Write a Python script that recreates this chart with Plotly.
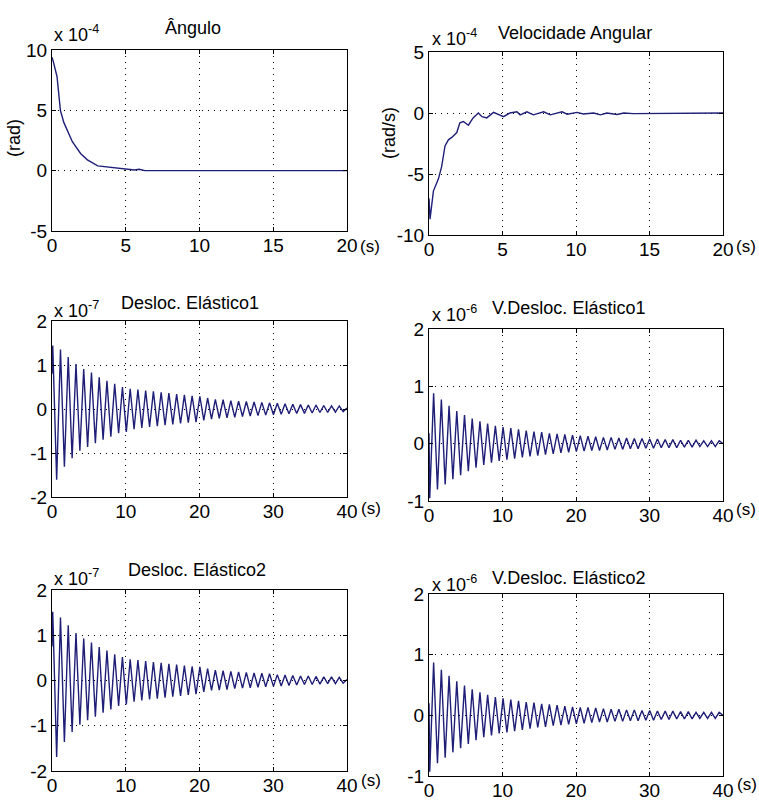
import plotly.graph_objects as go

W, H = 759, 800

# ---------------- data (values in the scaled units shown on each axis) ----------------
# Ângulo (x 10^-4 rad)
t_ang = [0, 0.1, 0.34, 0.57, 0.8, 1.03, 1.38, 1.95, 2.4, 3.1, 3.8, 4.7, 5.6, 5.9, 6.3, 20]
ang = [9.4, 9.0, 7.8, 5.0, 4.0, 3.3, 2.4, 1.4, 0.9, 0.4, 0.3, 0.14, 0.05, 0.12, 0.0, 0.0]

# Velocidade Angular (x 10^-4 rad/s)
t_vel = [0, 0.07, 0.3, 0.64, 0.86, 1.09, 1.32, 1.55, 1.89, 2.1, 2.34, 2.68, 3.0, 3.36, 3.6,
         3.93, 4.39, 4.73, 5.07, 5.5, 5.98, 6.2, 6.66, 7.1, 7.8, 8.25, 8.7, 9.05, 9.4, 10.07,
         10.5, 11.2, 11.66, 12.1, 12.8, 13.25, 13.9, 20]
vel = [-7.0, -8.7, -6.4, -5.4, -4.4, -2.7, -2.2, -2.0, -1.6, -0.8, -0.7, -1.0, -0.4, 0.0, -0.3,
       -0.4, 0.05, -0.15, -0.3, 0.0, 0.1, -0.15, 0.1, -0.15, 0.1, -0.15, 0.0, 0.1, -0.1, 0.05,
       -0.08, 0.0, -0.15, 0.0, -0.12, 0.0, -0.05, 0.0]

# sample times of the oscillation extremes (s)
t_osc = [0.0, 0.1, 0.63, 1.15, 1.68, 2.2, 2.73, 3.25, 3.78, 4.3, 4.83, 5.35, 5.88, 6.4, 6.93,
         7.45, 7.98, 8.5, 9.03, 9.55, 10.08, 10.6, 11.13, 11.65, 12.18, 12.7, 13.23, 13.75,
         14.28, 14.8, 15.33, 15.85, 16.38, 16.9, 17.43, 17.95, 18.48, 19.0, 19.53, 20.05,
         20.58, 21.1, 21.63, 22.15, 22.68, 23.2, 23.73, 24.25, 24.78, 25.3, 25.83, 26.35,
         26.88, 27.4, 27.93, 28.45, 28.98, 29.5, 30.03, 30.55, 31.08, 31.6, 32.13, 32.65,
         33.18, 33.7, 34.23, 34.75, 35.28, 35.8, 36.33, 36.85, 37.38, 37.9, 38.43, 38.95,
         39.48, 40.0]

# Desloc. Elástico1 (x 10^-7)
desl1 = [0.8, 1.44, -1.61, 1.35, -1.31, 1.18, -1.12, 1.02, -0.95, 0.91, -0.86, 0.83, -0.78,
         0.72, -0.70, 0.64, -0.63, 0.57, -0.55, 0.50, -0.52, 0.46, -0.46, 0.44, -0.43, 0.42,
         -0.41, 0.40, -0.39, 0.38, -0.37, 0.36, -0.35, 0.34, -0.33, 0.32, -0.31, 0.30, -0.30,
         0.29, -0.26, 0.25, -0.23, 0.22, -0.21, 0.21, -0.20, 0.19, -0.19, 0.18, -0.17, 0.17,
         -0.16, 0.16, -0.15, 0.15, -0.14, 0.14, -0.13, 0.13, -0.12, 0.12, -0.11, 0.11, -0.10,
         0.10, -0.10, 0.09, -0.09, 0.09, -0.08, 0.08, -0.08, 0.07, -0.07, 0.07, -0.06, 0.02]

# V.Desloc. Elástico1 (x 10^-6)
vdesl1 = [0.18, -0.95, 0.88, -0.80, 0.77, -0.71, 0.66, -0.62, 0.57, -0.55, 0.50, -0.48, 0.44,
          -0.42, 0.39, -0.37, 0.35, -0.33, 0.31, -0.30, 0.29, -0.28, 0.27, -0.26, 0.25, -0.24,
          0.23, -0.22, 0.21, -0.21, 0.20, -0.19, 0.18, -0.18, 0.17, -0.16, 0.16, -0.15, 0.15,
          -0.14, 0.14, -0.13, 0.13, -0.12, 0.12, -0.12, 0.11, -0.11, 0.11, -0.10, 0.10, -0.10,
          0.10, -0.09, 0.09, -0.09, 0.09, -0.08, 0.08, -0.08, 0.08, -0.07, 0.07, -0.07, 0.07,
          -0.07, 0.06, -0.06, 0.06, -0.06, 0.06, -0.05, 0.05, -0.05, 0.05, -0.05, 0.05, 0.0]

# Desloc. Elástico2 (x 10^-7)
desl2 = [0.75, 1.52, -1.69, 1.39, -1.36, 1.22, -1.14, 1.05, -0.98, 0.93, -0.88, 0.84, -0.80,
         0.74, -0.71, 0.66, -0.64, 0.58, -0.56, 0.52, -0.53, 0.47, -0.47, 0.45, -0.44, 0.43,
         -0.42, 0.41, -0.40, 0.39, -0.38, 0.37, -0.36, 0.35, -0.34, 0.33, -0.32, 0.31, -0.30,
         0.30, -0.25, 0.26, -0.22, 0.23, -0.21, 0.22, -0.20, 0.20, -0.18, 0.19, -0.17, 0.18,
         -0.16, 0.17, -0.15, 0.16, -0.14, 0.15, -0.13, 0.13, -0.12, 0.12, -0.11, 0.11, -0.10,
         0.10, -0.09, 0.10, -0.09, 0.09, -0.08, 0.08, -0.07, 0.08, -0.07, 0.07, -0.06, 0.02]

# V.Desloc. Elástico2 (x 10^-6)
vdesl2 = [0.20, -0.93, 0.87, -0.79, 0.75, -0.70, 0.65, -0.61, 0.56, -0.54, 0.49, -0.47, 0.43,
          -0.41, 0.38, -0.36, 0.34, -0.33, 0.30, -0.30, 0.28, -0.28, 0.26, -0.26, 0.24, -0.24,
          0.22, -0.22, 0.21, -0.20, 0.19, -0.19, 0.18, -0.17, 0.17, -0.16, 0.15, -0.15, 0.14,
          -0.14, 0.13, -0.13, 0.13, -0.12, 0.12, -0.11, 0.11, -0.11, 0.10, -0.10, 0.10, -0.10,
          0.09, -0.09, 0.09, -0.09, 0.08, -0.08, 0.08, -0.08, 0.07, -0.07, 0.07, -0.07, 0.07,
          -0.06, 0.06, -0.06, 0.06, -0.06, 0.05, -0.05, 0.05, -0.05, 0.05, -0.05, 0.05, 0.0]

titles = ["Ângulo", "Velocidade Angular", "Desloc. Elástico1", "V.Desloc. Elástico1",
          "Desloc. Elástico2", "V.Desloc. Elástico2"]
exponents = ["-4", "-4", "-7", "-6", "-7", "-6"]

# ---------------- layout helpers ----------------
def px(x):
    return x / W

def py(y):
    return 1 - y / H

LINE = "#1f1f78"
FONT = "Liberation Sans"
TICKFONT = dict(family=FONT, size=19, color="black")
TXT = dict(family=FONT, size=18, color="black")
UNIT = dict(family=FONT, size=17, color="black")

# axes boxes in pixel coords: (left, right, top, bottom)
boxes = [(52, 347, 50, 231), (429, 723, 52, 235),
         (52, 347, 321, 497), (429, 723, 329, 501),
         (52, 347, 590, 771), (429, 723, 594, 776)]
xranges = [[0, 20], [0, 20], [0, 40], [0, 40], [0, 40], [0, 40]]
xticks = [[0, 5, 10, 15, 20]] * 2 + [[0, 10, 20, 30, 40]] * 4
yranges = [[-5, 10], [-10, 5], [-2, 2], [-1, 2], [-2, 2], [-1, 2]]
yticks = [[-5, 0, 5, 10], [-10, -5, 0, 5], [-2, -1, 0, 1, 2], [-1, 0, 1, 2],
          [-2, -1, 0, 1, 2], [-1, 0, 1, 2]]

series = [(t_ang, ang), (t_vel, vel), (t_osc, desl1), (t_osc, vdesl1),
          (t_osc, desl2), (t_osc, vdesl2)]

fig = go.Figure()
layout = dict(width=W, height=H, margin=dict(l=0, r=0, t=0, b=0),
              paper_bgcolor="white", plot_bgcolor="white", showlegend=False)

annotations = []
for i, ((l, r, t, b), (xs, ys)) in enumerate(zip(boxes, series)):
    n = "" if i == 0 else str(i + 1)
    fig.add_trace(go.Scatter(x=xs, y=ys, mode="lines",
                             line=dict(color=LINE, width=1.4),
                             xaxis="x" + n, yaxis="y" + n, hoverinfo="skip"))
    common = dict(showline=True, linecolor="black", linewidth=1, mirror="ticks",
                  ticks="inside", ticklen=4, tickcolor="black",
                  showgrid=True, gridcolor="black", gridwidth=1, griddash="1px,5px",
                  zeroline=False, tickfont=TICKFONT, fixedrange=True, automargin=False)
    layout["xaxis" + n] = dict(common, domain=[px(l), px(r)], range=xranges[i],
                               tickvals=xticks[i], ticktext=[str(v) for v in xticks[i]],
                               anchor="y" + n, ticklabelstandoff=-3)
    layout["yaxis" + n] = dict(common, domain=[py(b), py(t)], range=yranges[i],
                               tickvals=yticks[i], ticktext=[str(v) for v in yticks[i]],
                               anchor="x" + n, ticklabelstandoff=0)

# titles, exponent labels and "(s)" unit marks
title_pos = [(193, 28), (575, 33), (190, 303), (568, 308), (197, 570), (568, 578)]
exp_pos = [(52, 34), (430, 37), (52, 309), (430, 313), (52, 577), (430, 583)]
s_pos = [(358, 246), (734, 246), (359, 508), (734, 510), (359, 780), (735, 784)]
for i in range(6):
    annotations.append(dict(text=titles[i], x=px(title_pos[i][0]), y=py(title_pos[i][1]),
                            xref="paper", yref="paper", showarrow=False,
                            xanchor="center", yanchor="middle", font=TXT))
    annotations.append(dict(text="x 10<sup>" + exponents[i] + "</sup>",
                            x=px(exp_pos[i][0]), y=py(exp_pos[i][1]),
                            xref="paper", yref="paper", showarrow=False,
                            xanchor="left", yanchor="middle", font=TXT))
    annotations.append(dict(text="(s)", x=px(s_pos[i][0]), y=py(s_pos[i][1]),
                            xref="paper", yref="paper", showarrow=False,
                            xanchor="left", yanchor="middle", font=UNIT))

annotations.append(dict(text="(rad)", x=px(14), y=py(138), xref="paper", yref="paper",
                        showarrow=False, textangle=-90, xanchor="center", yanchor="middle",
                        font=TXT))
annotations.append(dict(text="(rad/s)", x=px(389), y=py(133), xref="paper", yref="paper",
                        showarrow=False, textangle=-90, xanchor="center", yanchor="middle",
                        font=TXT))

layout["annotations"] = annotations
fig.update_layout(**layout)
fig.write_html("out.html")
